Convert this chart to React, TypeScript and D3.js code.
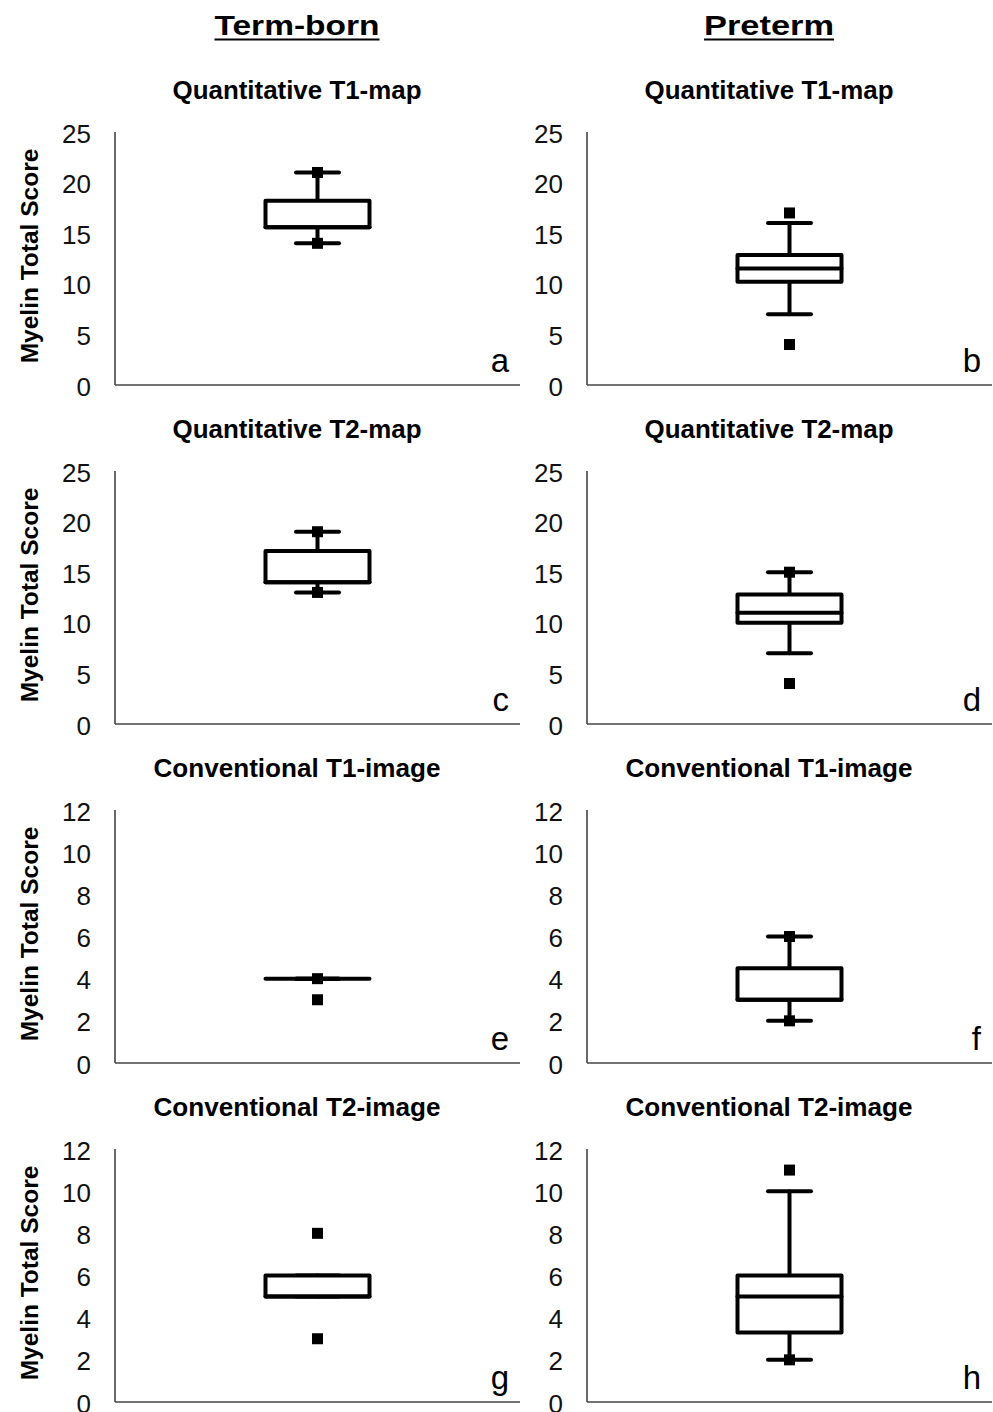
import React from 'react';
import * as d3 from 'd3';

// panel data, in reading order a..h
const panelLetters = ['a', 'b', 'c', 'd', 'e', 'f', 'g', 'h'];
const groupNames = ['Term-born', 'Preterm'];
const rowTitles = ['Quantitative T1-map', 'Quantitative T2-map', 'Conventional T1-image', 'Conventional T2-image'];
const rowYMax = [25, 25, 12, 12];
const rowYStep = [5, 5, 2, 2];

const whiskerLow = [14, 7, 13, 7, 4, 2, 5, 2];
const q1 = [15.6, 10.2, 14, 10, 4, 3, 5, 3.3];
const median = [15.6, 11.5, 14, 11, 4, 3, 5, 5];
const q3 = [18.2, 12.85, 17.1, 12.8, 4, 4.5, 6, 6];
const whiskerHigh = [21, 16, 19, 15, 4, 6, 6, 10];
const markers = [[21, 14], [17, 4], [19, 13], [15, 4], [4, 3], [6, 2], [8, 3], [11, 2]];

const W = 993;
const H = 1412;
const font = '"Liberation Sans", Arial, sans-serif';
const colX = [115, 587];
const plotW = 405;
const plotH = 253;
const rowTop = (r: number) => 132 + r * 339;
const boxW = 104;
const capW = 43;
const markSize = 11;

const Panel = ({ idx }: { idx: number }) => {
  const r = Math.floor(idx / 2);
  const c = idx % 2;
  const x0 = colX[c];
  const top = rowTop(r);
  const y = d3.scaleLinear().domain([0, rowYMax[r]]).range([top + plotH, top]);
  const ticks = d3.range(0, rowYMax[r] + 0.001, rowYStep[r]);
  const cx = x0 + plotW / 2;

  return (
    <g>
      <text x={x0 + 182} y={top - 33} textAnchor="middle" fontFamily={font} fontWeight="bold"
        fontSize={25} textLength={r < 2 ? 249 : 287} lengthAdjust="spacingAndGlyphs">
        {rowTitles[r]}
      </text>
      <line x1={x0} x2={x0} y1={y(rowYMax[r])} y2={y(0)} stroke="#444" strokeWidth={1.6} />
      <line x1={x0} x2={x0 + plotW} y1={y(0)} y2={y(0)} stroke="#444" strokeWidth={1.6} />
      {ticks.map(t => (
        <text key={t} x={x0 - 24} y={y(t) + 1.5} textAnchor="end" dominantBaseline="central"
          fontFamily={font} fontSize={26} fill="#111">{t}</text>
      ))}
      {c === 0 && (
        <text transform={`translate(38,${top + 124}) rotate(-90)`} textAnchor="middle"
          fontFamily={font} fontWeight="bold" fontSize={24.5}>Myelin Total Score</text>
      )}
      <g stroke="#000" strokeWidth={4} fill="none" strokeLinecap="round">
        <line x1={cx} x2={cx} y1={y(whiskerHigh[idx])} y2={y(q3[idx])} />
        <line x1={cx} x2={cx} y1={y(q1[idx])} y2={y(whiskerLow[idx])} />
        <line x1={cx - capW / 2} x2={cx + capW / 2} y1={y(whiskerHigh[idx])} y2={y(whiskerHigh[idx])} />
        <line x1={cx - capW / 2} x2={cx + capW / 2} y1={y(whiskerLow[idx])} y2={y(whiskerLow[idx])} />
        <rect x={cx - boxW / 2} width={boxW} y={y(q3[idx])} height={y(q1[idx]) - y(q3[idx])}
          fill="#fff" strokeLinejoin="round" />
        <line x1={cx - boxW / 2} x2={cx + boxW / 2} y1={y(median[idx])} y2={y(median[idx])} />
      </g>
      {markers[idx].map((m, i) => (
        <rect key={i} x={cx - markSize / 2} y={y(m) - markSize / 2} width={markSize} height={markSize} fill="#000" />
      ))}
      <text x={x0 + 394} y={top + 240} textAnchor="end" fontFamily={font} fontSize={33}>
        {panelLetters[idx]}
      </text>
    </g>
  );
};

export default function App() {
  return (
    <svg width={W} height={H} style={{ position: 'absolute', left: 0, top: 0, background: '#fff' }}>
      <rect width={W} height={H} fill="#fff" />
      {groupNames.map((g, c) => {
        const mid = colX[c] + 182;
        const len = c === 0 ? 165 : 130;
        return (
          <g key={g}>
            <text x={mid} y={35} textAnchor="middle" fontFamily={font} fontWeight="bold" fontSize={28}
              textLength={len} lengthAdjust="spacingAndGlyphs">{g}</text>
            <line x1={mid - len / 2} x2={mid + len / 2} y1={39.5} y2={39.5} stroke="#000" strokeWidth={2} />
          </g>
        );
      })}
      {panelLetters.map((_, i) => <Panel key={i} idx={i} />)}
    </svg>
  );
}
